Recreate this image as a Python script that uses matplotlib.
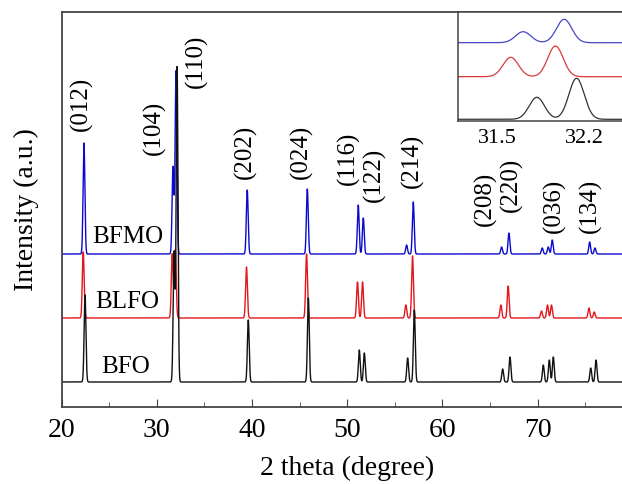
#!/usr/bin/env python3
"""XRD patterns of BFO, BLFO and BFMO with an inset zoom of the (104)/(110) doublet."""
import matplotlib
matplotlib.use("Agg")
import matplotlib.pyplot as plt
import numpy as np

plt.rcParams["font.family"] = ["Liberation Serif", "DejaVu Serif"]

# Peak table (BFO positions, heights above each baseline)
PEAK_POS_BFO = [22.47, 31.82, 32.14, 39.62, 45.93, 51.28, 51.81, 56.36, 57.06,
                66.34, 67.11, 70.61, 71.24, 71.66, 75.59, 76.15]
HEIGHT_BFO = [87, 130, 315, 62, 84, 32, 29, 24, 72, 13, 25, 17, 22, 25, 14, 22]
HEIGHT_BLFO = [66, 64, 68, 51, 64, 36, 36, 13, 62, 13, 32, 7, 13, 13, 10, 6]
HEIGHT_BFMO = [111, 87, 183, 64, 65, 49, 36, 9, 52, 7, 21, 6, 7, 14, 12, 6]
# peak shift of each doped sample relative to BFO (degree)
SHIFT = {"BFO": 0.0, "BLFO": -0.19, "BFMO": -0.11}
BASELINE = {"BFO": 25, "BLFO": 89, "BFMO": 153}
SAMPLES = ["BLFO", "BFMO", "BFO"]
COLORS = {"BFO": "#111111", "BLFO": "#e3161c", "BFMO": "#0a0ad0"}
HEIGHTS = {"BFO": HEIGHT_BFO, "BLFO": HEIGHT_BLFO, "BFMO": HEIGHT_BFMO}

# Miller index labels: (text, x, y centre)
HKL = ["(012)", "(104)", "(110)", "(202)", "(024)", "(116)", "(122)", "(214)",
       "(208)", "(220)", "(036)", "(134)"]
HKL_X = [22.1, 29.8, 34.2, 39.3, 45.2, 50.1, 52.9, 56.8, 64.5, 67.3, 71.8, 75.5]
HKL_Y = [303, 279, 346, 255, 255, 249, 232, 246, 208, 222, 201, 201]

# Inset: (104)/(110) doublet
INSET_POS = {"BFO": [31.82, 32.14], "BLFO": [31.61, 31.97], "BFMO": [31.71, 32.04]}
INSET_HEIGHT = {"BFO": [22, 41], "BLFO": [19.4, 30.7], "BFMO": [11, 23.4]}
INSET_BASE = {"BFO": 1.7, "BLFO": 44.3, "BFMO": 78.3}
INSET_COLORS = {"BFO": "#333333", "BLFO": "#d93a3a", "BFMO": "#4646c8"}


def pattern(x, positions, heights, base, width):
    y = np.full_like(x, float(base))
    for p, h in zip(positions, heights):
        y += h * np.exp(-0.5 * ((x - p) / width) ** 2)
    return y


fig = plt.figure(figsize=(6.22, 4.84), dpi=100)
ax = fig.add_axes([0.0989, 0.1591, 0.9183, 0.8161])

x = np.arange(20.0, 80.0, 0.01)
for name in SAMPLES:
    pos = np.array(PEAK_POS_BFO) + SHIFT[name]
    ax.plot(x, pattern(x, pos, HEIGHTS[name], BASELINE[name], 0.095),
            color=COLORS[name], lw=1.0)

for name, (tx, ty) in {"BFMO": (27.0, 170), "BLFO": (26.9, 105),
                       "BFO": (26.7, 40)}.items():
    ax.text(tx, ty, name, fontsize=18, ha="center", va="center")

for lab, hx, hy in zip(HKL, HKL_X, HKL_Y):
    ax.text(hx, hy, lab, fontsize=18, rotation=90, ha="center", va="center")

ax.set_xlim(20, 80)
ax.set_ylim(0, 395)
ax.set_xticks([20, 30, 40, 50, 60, 70])
ax.set_xticks([25, 35, 45, 55, 65, 75], minor=True)
ax.set_yticks([])
ax.tick_params(axis="x", which="both", direction="in", labelsize=20, pad=8,
               color="#444444")
ax.tick_params(axis="x", which="major", length=6)
ax.tick_params(axis="x", which="minor", length=3.5)
for sp in ax.spines.values():
    sp.set_color("#444444")
    sp.set_linewidth(1.3)
ax.set_xlabel("2 theta (degree)", fontsize=20, labelpad=9)
ax.set_ylabel("Intensity (a.u.)", fontsize=20, labelpad=16)

# inset
axin = fig.add_axes([0.7363, 0.75, 0.2765, 0.2252])
xi = np.arange(31.1, 32.7, 0.002)
for name in SAMPLES:
    axin.plot(xi, pattern(xi, INSET_POS[name], INSET_HEIGHT[name],
                          INSET_BASE[name], 0.062),
              color=INSET_COLORS[name], lw=0.9)
axin.set_xlim(31.185, 32.57)
axin.set_ylim(0, 109)
axin.set_yticks([])
axin.set_xticks([31.5, 32.2])
axin.set_xticklabels(["31.5", "32.2"])
axin.tick_params(axis="x", length=0, labelsize=16, pad=6)
for sp in axin.spines.values():
    sp.set_color("#444444")
    sp.set_linewidth(1.1)

fig.savefig("out.png", dpi=100)
